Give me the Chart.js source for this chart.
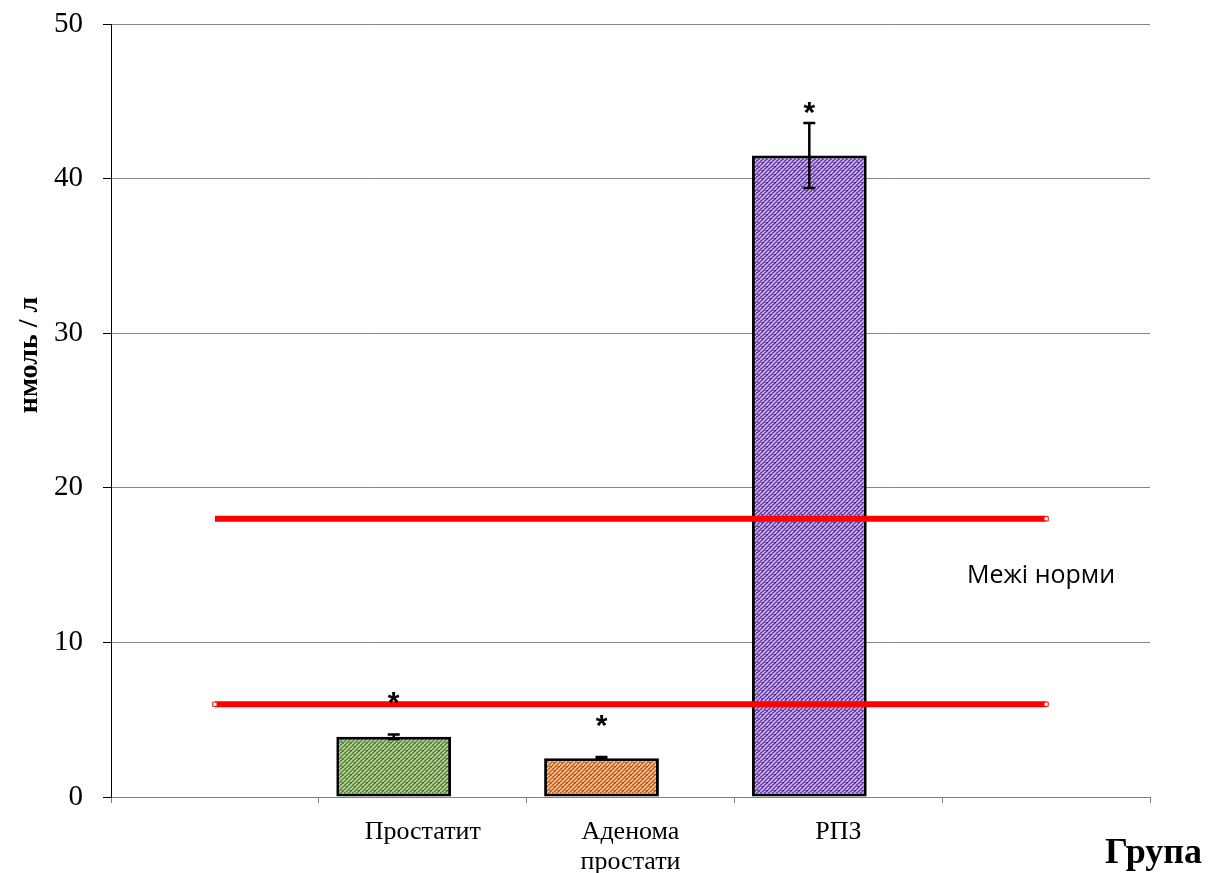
<!DOCTYPE html>
<html>
<head>
<meta charset="utf-8">
<style>
  html, body { margin: 0; padding: 0; background: #ffffff; }
  #wrap { width: 1217px; height: 873px; position: relative; }
</style>
<script src="https://cdn.jsdelivr.net/npm/chart.js@4/dist/chart.umd.min.js"></script>
</head>
<body>
<div id="wrap"><canvas id="chart" width="1217" height="873"></canvas></div>
<script>
// Groups on the category axis (empty slots at both ends)
const categories = ['', 'Простатит', ['Аденома', 'простати'], 'РПЗ', ''];
// Mean concentration, нмоль / л
const values = [null, 3.9, 2.5, 41.5, null];
// Error (± half range)
const errors = [null, 0.15, 0.08, 2.1, null];
// Significance marks and the level they sit at
const marks = ['', '*', '*', '*', ''];
const markLevels = [null, 6.45, 5.0, 44.6, null];
// Reference range limits
const normUpper = [18, 18, 18, 18, 18];
const normLower = [6, 6, 6, 6, 6];
const normLabel = 'Межі норми';
const normLabelLevel = 14.3;
// Value axis
const yMin = 0, yMax = 50, yStep = 10;
const yTitle = 'нмоль / л';
const xTitle = 'Група';

const barBase = ['#ffffff', '#557f32', '#c45c17', '#6438a8', '#ffffff'];
const barLight = ['#ffffff', '#c2dbab', '#f7cfad', '#d4c0f2', '#ffffff'];

// Woven diagonal fill for each bar
function weave(base, light) {
  const c = document.createElement('canvas');
  c.width = 8; c.height = 8;
  const g = c.getContext('2d');
  g.fillStyle = base;
  g.fillRect(0, 0, 8, 8);
  g.strokeStyle = light;
  g.lineWidth = 1.5;
  for (let k = -8; k <= 16; k += 4) {
    g.beginPath();
    g.moveTo(k, 8);
    g.lineTo(k + 8, 0);
    g.stroke();
  }
  g.fillStyle = base;
  g.fillRect(1, 2, 2, 1);
  g.fillRect(5, 6, 2, 1);
  return g.createPattern(c, 'repeat');
}

const ctx = document.getElementById('chart').getContext('2d');
const fills = barBase.map((b, i) => weave(b, barLight[i]));

const annotate = {
  id: 'annotate',
  afterDatasetsDraw(chart) {
    const g = chart.ctx;
    const y = chart.scales.y;
    const meta = chart.getDatasetMeta(2);
    g.save();
    // error bars
    g.strokeStyle = '#000';
    g.lineWidth = 2.5;
    meta.data.forEach((bar, i) => {
      if (values[i] == null || errors[i] == null) return;
      const x = bar.x;
      const t = y.getPixelForValue(values[i] + errors[i]);
      const b = y.getPixelForValue(values[i] - errors[i]);
      g.beginPath();
      g.moveTo(x, t); g.lineTo(x, b);
      g.moveTo(x - 6, t); g.lineTo(x + 6, t);
      g.moveTo(x - 6, b); g.lineTo(x + 6, b);
      g.stroke();
    });
    // significance marks
    g.fillStyle = '#000';
    g.font = 'bold 30px "Liberation Sans", Arial, sans-serif';
    g.textAlign = 'center';
    g.textBaseline = 'alphabetic';
    meta.data.forEach((bar, i) => {
      if (!marks[i]) return;
      g.fillText(marks[i], bar.x, y.getPixelForValue(markLevels[i]) + 15);
    });
    // reference range label
    g.font = '25px "Open Sans", sans-serif';
    g.textBaseline = 'middle';
    g.textAlign = 'center';
    g.fillText(normLabel, 1041, y.getPixelForValue(normLabelLevel));
    // axis titles
    g.font = 'bold 28px "Liberation Serif", "Times New Roman", serif';
    g.save();
    g.translate(30, 355);
    g.rotate(-Math.PI / 2);
    g.textBaseline = 'middle';
    g.fillText(yTitle, 0, 0);
    g.restore();
    g.font = 'bold 36px "Liberation Serif", "Times New Roman", serif';
    g.textAlign = 'right';
    g.textBaseline = 'alphabetic';
    g.fillText(xTitle, 1202, 863);
    g.restore();
  }
};

new Chart(ctx, {
  data: {
    labels: categories,
    datasets: [
      {
        type: 'line',
        data: normUpper,
        borderColor: '#ff0000',
        borderWidth: 6,
        pointStyle: 'rect',
        pointRadius: [0, 0, 0, 0, 3],
        pointBackgroundColor: '#ffffff',
        pointBorderColor: '#ff0000',
        pointBorderWidth: 1,
        order: 0
      },
      {
        type: 'line',
        data: normLower,
        borderColor: '#ff0000',
        borderWidth: 6,
        pointStyle: 'rect',
        pointRadius: [3, 0, 0, 0, 3],
        pointBackgroundColor: '#ffffff',
        pointBorderColor: '#ff0000',
        pointBorderWidth: 1,
        order: 0
      },
      {
        type: 'bar',
        data: values,
        backgroundColor: fills,
        borderColor: '#000000',
        borderWidth: 3,
        borderSkipped: false,
        categoryPercentage: 0.558,
        barPercentage: 1.98,
        order: 1
      },
      {
        type: 'bar',
        data: categories.map(() => null),
        categoryPercentage: 0.558,
        barPercentage: 1.98,
        order: 1
      }
    ]
  },
  options: {
    responsive: false,
    animation: false,
    events: [],
    layout: { padding: { left: 0, right: 67, top: 24, bottom: 0 } },
    plugins: { legend: { display: false }, tooltip: { enabled: false } },
    scales: {
      x: {
        offset: true,
        grid: { display: true, drawOnChartArea: false, offset: true, tickLength: 6, color: '#808080' },
        border: { color: '#808080', width: 1 },
        ticks: {
          color: '#000',
          padding: 14,
          maxRotation: 0,
          autoSkip: false,
          font: { family: '"Liberation Serif", "Times New Roman", serif', size: 26, lineHeight: 1.15 }
        },
        afterFit(s) { s.height = 76; s.paddingLeft = 0; s.paddingRight = 0; }
      },
      y: {
        min: yMin,
        max: yMax,
        ticks: {
          stepSize: yStep,
          color: '#000',
          padding: 20,
          font: { family: '"Liberation Serif", "Times New Roman", serif', size: 29 }
        },
        grid: { color: '#868686', tickColor: '#000', tickLength: 8, lineWidth: 1 },
        border: { color: '#000', width: 1 },
        afterFit(s) { s.width = 111; s.paddingTop = 0; s.paddingBottom = 0; }
      }
    }
  },
  plugins: [annotate]
});
</script>
</body>
</html>
